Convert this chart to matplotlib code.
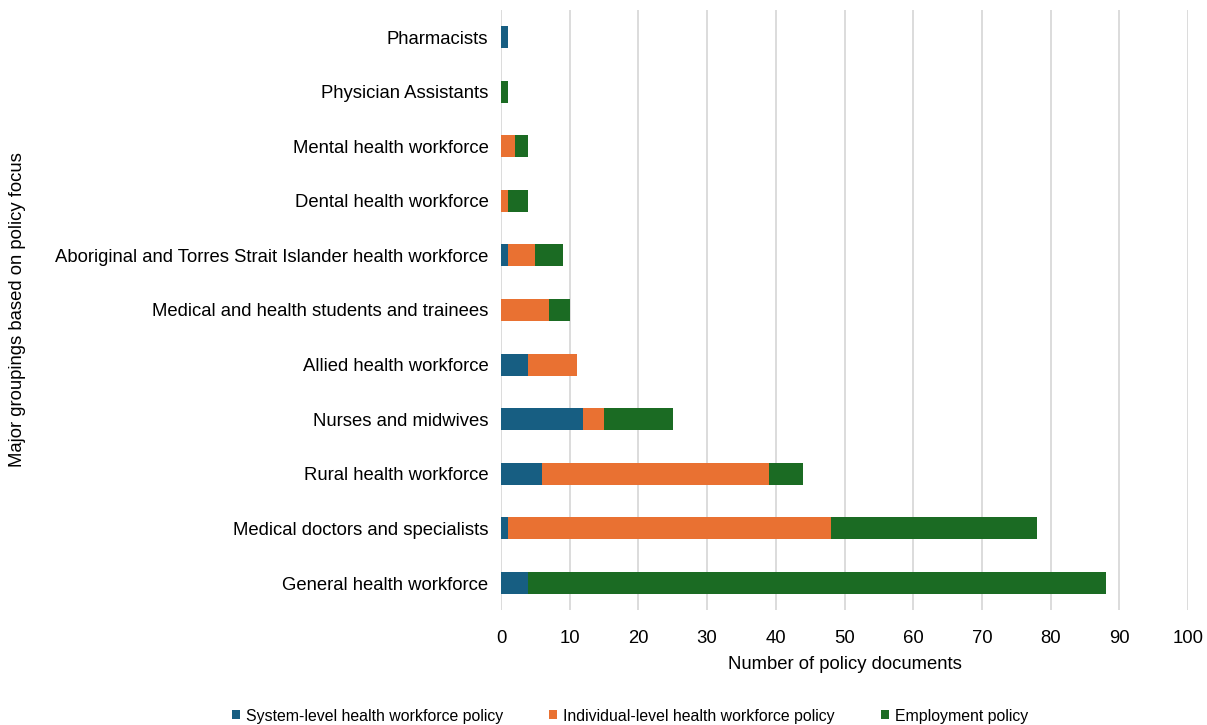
import matplotlib
matplotlib.use("Agg")
import matplotlib.pyplot as plt
import numpy as np

plt.rcParams['font.family'] = ['Liberation Sans', 'DejaVu Sans']

categories = [
    "General health workforce",
    "Medical doctors and specialists",
    "Rural health workforce",
    "Nurses and midwives",
    "Allied health workforce",
    "Medical and health students and trainees",
    "Aboriginal and Torres Strait Islander health workforce",
    "Dental health workforce",
    "Mental health workforce",
    "Physician Assistants",
    "Pharmacists",
]
system_level = [4, 1, 6, 12, 4, 0, 1, 0, 0, 0, 1]
individual_level = [0, 47, 33, 3, 7, 7, 4, 1, 2, 0, 0]
employment = [84, 30, 5, 10, 0, 3, 4, 3, 2, 1, 0]

series_names = [
    "System-level health workforce policy",
    "Individual-level health workforce policy",
    "Employment policy",
]
colors = ["#175e82", "#e97132", "#1b6b23"]

W, H = 1207, 725
fig = plt.figure(figsize=(W / 100, H / 100), dpi=100)
top, bottom = 9.7, 610.3
ax = fig.add_axes([501 / W, 1 - bottom / H, (1188 - 501) / W, (bottom - top) / H])

y = np.arange(len(categories))
left = np.zeros(len(categories))
handles = []
for vals, name, col in zip([system_level, individual_level, employment], series_names, colors):
    vals = np.array(vals, dtype=float)
    b = ax.barh(y, vals, left=left, height=0.4, color=col, label=name, zorder=3)
    handles.append(b)
    left += vals

ax.set_xlim(0, 100)
ax.set_ylim(-0.5, len(categories) - 0.5)
ax.set_xticks(np.arange(0, 101, 10))
ax.set_yticks(y)
ax.set_yticklabels(categories, fontsize=13.3)
ax.tick_params(axis='x', labelsize=13.3, length=0, pad=14)
ax.tick_params(axis='y', length=0, pad=9)
ax.grid(axis='x', color='#d9d9d9', linewidth=1.3, zorder=0)
for s in ax.spines.values():
    s.set_visible(False)

ax.set_xlabel("Number of policy documents", fontsize=13.3, labelpad=7)
fig.text(18 / W, 1 - 310 / H, "Major groupings based on policy focus", rotation=90,
         fontsize=13.3, va='center', ha='center')

leg = fig.legend(handles=handles, labels=series_names, loc='center', ncol=3,
                 bbox_to_anchor=(630 / W, 1 - 716 / H), frameon=False,
                 fontsize=11.4, handlelength=0.5, handleheight=0.5,
                 handletextpad=0.4, columnspacing=2.9)

fig.savefig("out.png", dpi=100)
